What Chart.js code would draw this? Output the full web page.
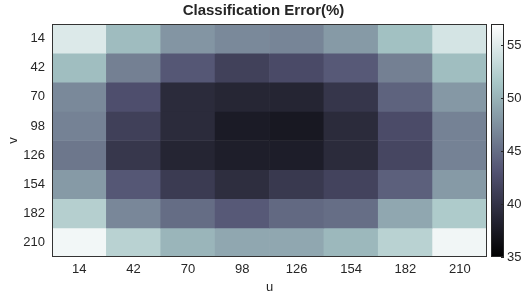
<!DOCTYPE html>
<html>
<head>
<meta charset="utf-8">
<script src="https://cdn.jsdelivr.net/npm/chart.js@4.4.1/dist/chart.umd.min.js"></script>
<style>
  html, body { margin: 0; padding: 0; background: #fff; }
  #wrap { width: 521px; height: 295px; }
</style>
</head>
<body>
<div id="wrap"><canvas id="heat" width="521" height="295"></canvas></div>
<script>
// grid labels
const uLabels = ['14', '42', '70', '98', '126', '154', '182', '210'];
const vLabels = ['14', '42', '70', '98', '126', '154', '182', '210'];

// classification error (%) for each v row, across u
const errV14  = [54.8, 50.7, 47.9, 47.0, 46.7, 48.2, 51.0, 54.3];
const errV42  = [50.8, 46.4, 43.4, 41.4, 42.3, 43.6, 46.4, 50.8];
const errV70  = [47.0, 42.7, 39.2, 38.7, 38.6, 40.3, 44.3, 48.1];
const errV98  = [46.5, 41.3, 39.2, 37.7, 37.4, 39.2, 42.4, 46.5];
const errV126 = [45.7, 40.4, 38.6, 38.0, 37.9, 39.2, 41.9, 46.5];
const errV154 = [48.2, 43.4, 40.8, 39.5, 40.6, 41.6, 44.1, 48.2];
const errV182 = [52.3, 46.9, 45.0, 43.6, 44.7, 45.1, 49.2, 51.9];
const errV210 = [56.2, 52.6, 50.2, 49.2, 49.2, 50.4, 52.6, 56.1];
const rows = [errV14, errV42, errV70, errV98, errV126, errV154, errV182, errV210];

const cMin = 35, cMax = 57;
const cbTicks = [35, 40, 45, 50, 55];

// bone colormap
function interp(pts, t) {
  for (let i = 1; i < pts.length; i++) {
    if (t <= pts[i][0]) {
      const a = pts[i - 1], b = pts[i];
      return a[1] + (b[1] - a[1]) * (t - a[0]) / (b[0] - a[0]);
    }
  }
  return pts[pts.length - 1][1];
}
function bone(t) {
  t = Math.max(0, Math.min(1, t));
  const r = interp([[0, 0], [0.746032, 0.652778], [1, 1]], t);
  const g = interp([[0, 0], [0.365079, 0.319444], [0.746032, 0.777778], [1, 1]], t);
  const b = interp([[0, 0], [0.365079, 0.444444], [1, 1]], t);
  return 'rgb(' + Math.round(r * 255) + ',' + Math.round(g * 255) + ',' + Math.round(b * 255) + ')';
}
const colorOf = (val) => bone((val - cMin) / (cMax - cMin));

const datasets = rows.map((row, i) => ({
  label: 'v=' + vLabels[i],
  data: row.map(() => [i - 0.5, i + 0.5]),
  backgroundColor: row.map(colorOf),
  borderWidth: 0,
  barPercentage: 1,
  categoryPercentage: 1,
  yAxisID: 'y'
}));

const txt = '#262626';
const font = { family: 'Liberation Sans, Arial, sans-serif', size: 13 };

// colorbar + frame
const frame = {
  id: 'frame',
  afterDraw(chart) {
    const ctx = chart.ctx, a = chart.chartArea, cb = chart.scales.cb;
    ctx.save();
    const x0 = a.right + 4, w = 13;
    const top = cb.getPixelForValue(cMax), bot = cb.getPixelForValue(cMin);
    const grad = ctx.createLinearGradient(0, bot, 0, top);
    for (let k = 0; k <= 40; k++) grad.addColorStop(k / 40, bone(k / 40));
    ctx.fillStyle = grad;
    ctx.fillRect(x0, top, w, bot - top);
    ctx.strokeStyle = '#262626';
    ctx.lineWidth = 1;
    ctx.strokeRect(x0 + 0.5, top + 0.5, w - 1, bot - top - 1);
    ctx.beginPath();
    cbTicks.forEach(t => {
      const y = Math.round(cb.getPixelForValue(t)) + 0.5;
      ctx.moveTo(x0 + w - 3, y);
      ctx.lineTo(x0 + w, y);
    });
    ctx.stroke();
    ctx.strokeStyle = '#333';
    ctx.strokeRect(a.left + 0.5, a.top + 0.5, a.right - a.left - 1, a.bottom - a.top - 1);
    ctx.restore();
  }
};

new Chart(document.getElementById('heat'), {
  type: 'bar',
  data: { labels: uLabels, datasets: datasets },
  options: {
    responsive: false,
    animation: false,
    layout: { padding: { left: 6, right: 0, top: 0, bottom: 0 } },
    plugins: {
      legend: { display: false },
      tooltip: { enabled: false },
      title: {
        display: true,
        text: 'Classification Error(%)',
        color: txt,
        font: { family: font.family, size: 15, weight: 'bold' },
        padding: { top: 2, bottom: 4 }
      }
    },
    scales: {
      x: {
        type: 'category',
        stacked: true,
        grid: { display: false, drawTicks: false },
        border: { display: false },
        ticks: { color: txt, font: font, padding: 5, maxRotation: 0 },
        title: { display: true, text: 'u', color: txt, font: font, padding: 0 },
        afterFit: (s) => { s.height = 38; }
      },
      y: {
        type: 'linear',
        reverse: true,
        min: -0.5,
        max: 7.5,
        grid: { display: false, drawTicks: false },
        border: { display: false },
        afterBuildTicks: (s) => { s.ticks = vLabels.map((_, i) => ({ value: i })); },
        ticks: { color: txt, font: font, padding: 7, callback: (val) => vLabels[val] },
        title: { display: true, text: 'v', color: txt, font: font, padding: 0 },
        afterFit: (s) => { s.width = 46; }
      },
      cb: {
        type: 'linear',
        position: 'right',
        min: cMin,
        max: cMax,
        grid: { display: true, drawOnChartArea: false, drawTicks: true, tickLength: 17, color: 'rgba(0,0,0,0)' },
        border: { display: false },
        afterBuildTicks: (s) => { s.ticks = cbTicks.map(t => ({ value: t })); },
        ticks: { color: txt, font: font, padding: 3 },
        afterFit: (s) => { s.width = 34; }
      }
    }
  },
  plugins: [frame]
});
</script>
</body>
</html>
